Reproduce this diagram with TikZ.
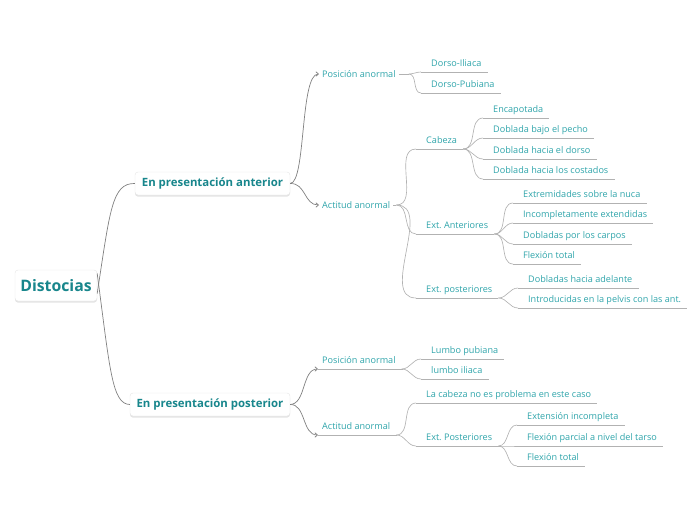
\documentclass[tikz,border=0pt]{standalone}
\usepackage{fontspec}
\setmainfont{Open Sans}
\usetikzlibrary{shadows,arrows.meta,positioning,calc}
\definecolor{topicteal}{RGB}{24,134,140}
\definecolor{leafteal}{RGB}{46,164,170}
\newcommand\leaffont{\fontsize{9.1}{11}\selectfont}
\frenchspacing
\tikzset{
    box/.style={draw=black!10,fill=white,rounded corners=3pt,text=topicteal,font=\bfseries,
        drop shadow={shadow xshift=0pt,shadow yshift=-1.6pt,opacity=0.22}},
    rootbox/.style={box,minimum width=82pt,minimum height=31pt,font=\fontsize{15.8}{18}\selectfont\bfseries},
    topicbox/.style={box,minimum height=23pt,font=\fontsize{11.4}{13}\selectfont\bfseries},
    sub/.style={font=\leaffont,text=leafteal,inner sep=0pt,anchor=west},
    leaf/.style={font=\leaffont,text=leafteal,inner xsep=0pt,inner ysep=0pt,
        text height=7pt,text depth=5.3pt,anchor=south west},
    link/.style={draw=black!50,line width=0.7pt},
    arr/.style={link,-{Straight Barb[length=2.6pt,width=4.5pt]}},
    uline/.style={draw=black!30,line width=0.65pt},
}
\begin{document}
\begin{tikzpicture}[x=1pt,y=-1pt]
    \useasboundingbox (0,0) rectangle (696,520);
    % main topics
    \node[rootbox] (dist) at (56,285.5) {Distocias};
    \node[topicbox,minimum width=155pt] (ant) at (212.5,183.5) {En presentación anterior};
    \node[topicbox,minimum width=160pt] (post) at (210,404.5) {En presentación posterior};
    % anterior branch
    \node[sub] (pa1) at (322,74) {Posición anormal};
    \node[sub] (aa1) at (322,205) {Actitud anormal};
    \node[leaf] (dil) at (431,72) {Dorso-Iliaca};
    \node[leaf] (dpu) at (431,93) {Dorso-Pubiana};
    \node[leaf] (cab) at (426,149) {Cabeza};
    \node[leaf] (exa) at (426,234) {Ext. Anteriores};
    \node[leaf] (exp) at (426,298) {Ext. posteriores};
    \node[leaf] (enc) at (493,118) {Encapotada};
    \node[leaf] (bajo) at (493,138) {Doblada bajo el pecho};
    \node[leaf] (dors) at (493,159) {Doblada hacia el dorso};
    \node[leaf] (cost) at (493,179) {Doblada hacia los costados};
    \node[leaf] (nuca) at (523,203) {Extremidades sobre la nuca};
    \node[leaf] (inco) at (523,223) {Incompletamente extendidas};
    \node[leaf] (carp) at (523,244) {Dobladas por los carpos};
    \node[leaf] (ftot) at (523,264) {Flexión total};
    \node[leaf] (adel) at (528,288) {Dobladas hacia adelante};
    \node[leaf] (pelv) at (528,308) {Introducidas en la pelvis con las ant.};
    % posterior branch
    \node[leaf] (pp2) at (322,369) {Posición anormal};
    \node[leaf] (ap2) at (322,435) {Actitud anormal};
    \node[leaf] (lpu) at (431,359) {Lumbo pubiana};
    \node[leaf] (lil) at (431,379) {lumbo iliaca};
    \node[leaf] (cno) at (426,403) {La cabeza no es problema en este caso};
    \node[leaf] (exq) at (426,446) {Ext. Posteriores};
    \node[leaf] (einc) at (527,425) {Extensión incompleta};
    \node[leaf] (fpar) at (527,446) {Flexión parcial a nivel del tarso};
    \node[leaf] (ftt) at (527,466) {Flexión total};

    % underlines
    \foreach \n in {dil,dpu,cab,exa,exp,enc,bajo,dors,cost,nuca,inco,carp,ftot,adel,pelv,
                    lpu,lil,cno,exq,einc,fpar,ftt}
        \draw[uline] ([xshift=-10pt]\n.south west) -- ([xshift=6pt]\n.south east);
    \draw[uline] ([xshift=-4pt]pp2.south west) -- ([xshift=7pt]pp2.south east);
    \draw[uline] ([xshift=-4pt]ap2.south west) -- ([xshift=7pt]ap2.south east);

    % root to topics
    \draw[link] ([yshift=-8pt]dist.east) .. controls (110,210) and (112,183) .. (ant.west);
    \draw[link] ([yshift=12pt]dist.east) .. controls (110,370) and (112,404) .. (post.west);
    % topics to subtopics
    \draw[arr] (ant.east) .. controls (306,183) and (300,74) .. ([xshift=-3pt]pa1.west);
    \draw[arr] (ant.east) .. controls (306,183) and (304,205) .. ([xshift=-3pt]aa1.west);
    \draw[arr] (post.east) .. controls (306,404) and (302,369) .. ([xshift=-4pt]pp2.south west);
    \draw[arr] (post.east) .. controls (306,404) and (302,435) .. ([xshift=-4pt]ap2.south west);
    % subtopics to children
    \draw[uline] ([xshift=3pt]pa1.east) -- ([xshift=13pt]pa1.east);
    \foreach \c in {dil,dpu}
        \draw[uline] ([xshift=13pt]pa1.east) to[out=0,in=180] ([xshift=-10pt]\c.south west);
    \draw[uline] ([xshift=3pt]aa1.east) -- ([xshift=6pt]aa1.east);
    \foreach \c in {cab,exa,exp}
        \draw[uline] ([xshift=6pt]aa1.east) to[out=0,in=180] ([xshift=-10pt]\c.south west);
    \foreach \p/\c in {cab/enc,cab/bajo,cab/dors,cab/cost,exa/nuca,exa/inco,exa/carp,exa/ftot,
                       exp/adel,exp/pelv,pp2/lpu,pp2/lil,ap2/cno,ap2/exq,exq/einc,exq/fpar,exq/ftt}
        \draw[uline] ([xshift=6pt]\p.south east) to[out=0,in=180] ([xshift=-10pt]\c.south west);
\end{tikzpicture}
\end{document}
